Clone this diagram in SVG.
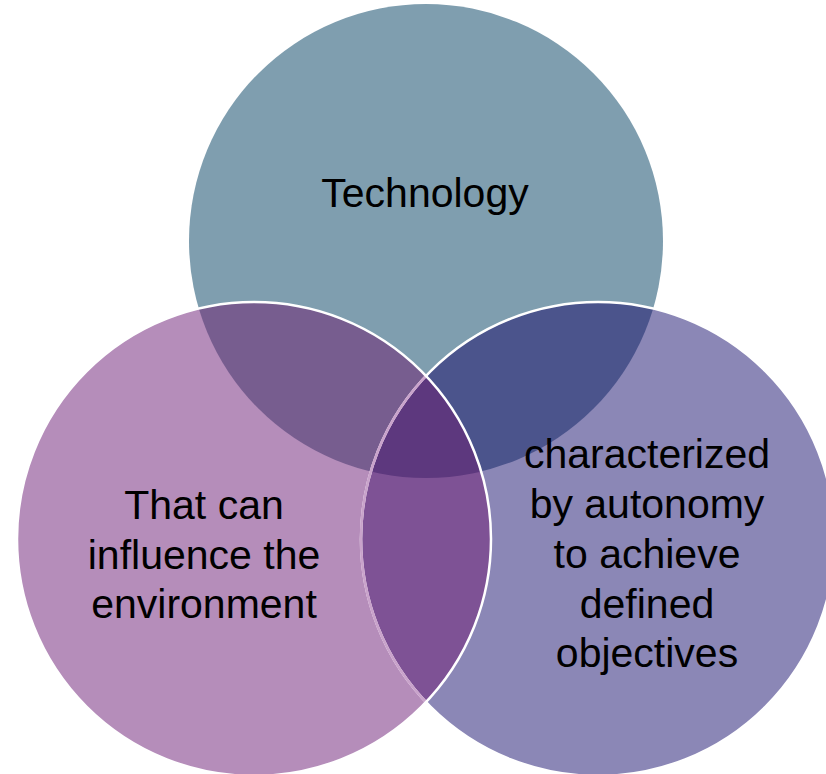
<svg xmlns="http://www.w3.org/2000/svg" width="826" height="774" viewBox="0 0 826 774">
  <style>
    .lbl { font-family: "Liberation Sans", Arial, sans-serif; font-size: 41px; fill: #000; text-anchor: middle; }
    .edge { fill: none; stroke: #ffffff; stroke-width: 2.5; }
  </style>
  <defs>
    <clipPath id="cT"><circle cx="426" cy="241" r="237"/></clipPath>
    <clipPath id="cL"><circle cx="254" cy="539" r="237"/></clipPath>
    <clipPath id="cR"><circle cx="598" cy="539" r="237"/></clipPath>
  </defs>
  <rect width="826" height="774" fill="#ffffff"/>
  <g id="shapes">
    <circle cx="426" cy="241" r="237" fill="#7F9EAF"/>
    <circle cx="598" cy="539" r="237" fill="#8B87B6"/>
    <circle cx="254" cy="539" r="237" fill="#B58DBA"/>
    <g clip-path="url(#cT)">
      <circle cx="254" cy="539" r="237" fill="#775D8F"/>
      <circle cx="598" cy="539" r="237" fill="#4B548C"/>
    </g>
    <g clip-path="url(#cL)">
      <circle cx="598" cy="539" r="237" fill="#7E5295"/>
      <g clip-path="url(#cT)">
        <circle cx="598" cy="539" r="237" fill="#5D387E"/>
      </g>
    </g>
  </g>
  <g id="connectors">
    <circle class="edge" cx="598" cy="539" r="237"/>
    <g clip-path="url(#cL)">
      <circle cx="598" cy="539" r="237" fill="none" stroke="#C9A3CB" stroke-width="2.6"/>
    </g>
    <circle class="edge" cx="254" cy="539" r="237"/>
  </g>
  <g id="node-technology">
    <text class="lbl" x="425" y="207">Technology</text>
  </g>
  <g id="node-influence">
    <text class="lbl" x="204" y="519">That can</text>
    <text class="lbl" x="204" y="569">influence the</text>
    <text class="lbl" x="204" y="618">environment</text>
  </g>
  <g id="node-autonomy">
    <text class="lbl" x="647" y="468">characterized</text>
    <text class="lbl" x="647" y="518">by autonomy</text>
    <text class="lbl" x="647" y="568">to achieve</text>
    <text class="lbl" x="647" y="618">defined</text>
    <text class="lbl" x="647" y="667">objectives</text>
  </g>
</svg>
